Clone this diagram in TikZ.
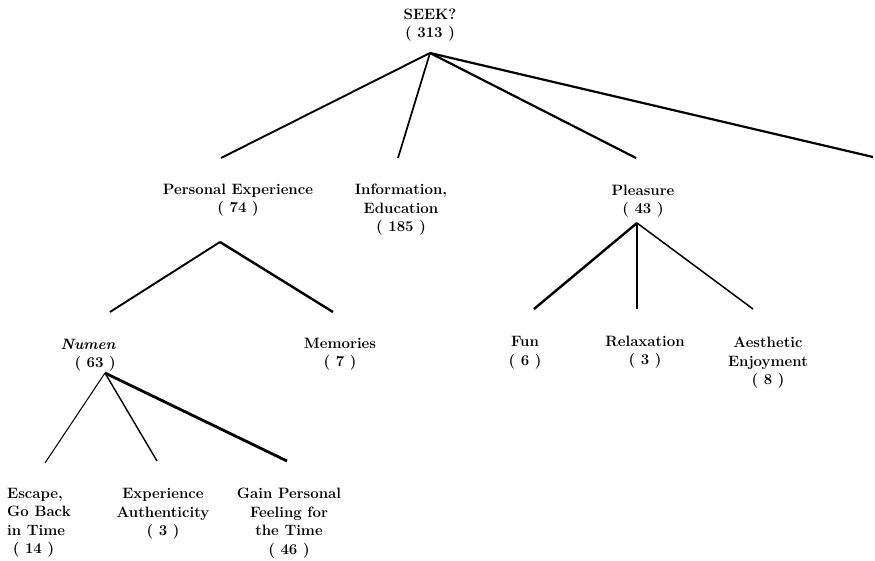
\documentclass[tikz,border=0pt]{standalone}
\begin{document}
\begin{tikzpicture}[x=1pt,y=-1pt,
  lbl/.style={inner sep=0pt,align=center,font=\fontsize{15}{18.5}\selectfont\bfseries},
  br/.style={line width=#1},
  br/.default=1.8pt]
\useasboundingbox[fill=white] (0,0) rectangle (875,561);
% labels
\node[lbl] (seek) at (430,25) {SEEK?\\( 313 )};
\node[lbl] (pe) at (238,200) {Personal Experience\\( 74 )};
\node[lbl] (info) at (401,210) {Information,\\Education\\( 185 )};
\node[lbl] (pleas) at (643,201) {Pleasure\\( 43 )};
\node[lbl,align=right,anchor=east] (numen) at (116,355) {\textit{Numen}\\( 63 )};
\node[lbl] (mem) at (340,354) {Memories\\( 7 )};
\node[lbl] (fun) at (525,353) {Fun\\( 6 )};
\node[lbl] (relax) at (645,352) {Relaxation\\( 3 )};
\node[lbl] (aest) at (768,363) {Aesthetic\\Enjoyment\\( 8 )};
\node[lbl,align=left,anchor=west] (esc) at (7,523) {Escape,\\Go Back\\in Time\\\ ( 14 )};
\node[lbl] (auth) at (163,514) {Experience\\Authenticity\\( 3 )};
\node[lbl] (gain) at (289,523) {Gain Personal\\Feeling for\\the Time\\( 46 )};
% branch points
\coordinate (top) at (430,53);
\coordinate (e1) at (221,158);
\coordinate (e2) at (398,158);
\coordinate (e3) at (636,158);
\coordinate (e4) at (873,157);
\coordinate (peTop) at (220,242);
\coordinate (m1) at (110,312);
\coordinate (m2) at (333,312);
\coordinate (nuTop) at (105,373);
\coordinate (n1) at (45,463);
\coordinate (n2) at (157,461);
\coordinate (n3) at (287,461);
\coordinate (plTop) at (637,223);
\coordinate (p1) at (534,309);
\coordinate (p2) at (637,309);
\coordinate (p3) at (753,309);
% branches
\draw[br=1.9pt] (top) -- (e1);
\draw[br=1.7pt] (top) -- (e2);
\draw[br=2.2pt] (top) -- (e3);
\draw[br=2.2pt] (top) -- (e4);
\draw[br=1.9pt] (peTop) -- (m1);
\draw[br=2.4pt] (peTop) -- (m2);
\draw[br=1pt] (nuTop) -- (n1);
\draw[br=1.4pt] (nuTop) -- (n2);
\draw[br=2.8pt] (nuTop) -- (n3);
\draw[br=2.4pt] (plTop) -- (p1);
\draw[br=1.9pt] (plTop) -- (p2);
\draw[br=1.5pt] (plTop) -- (p3);
\end{tikzpicture}
\end{document}
